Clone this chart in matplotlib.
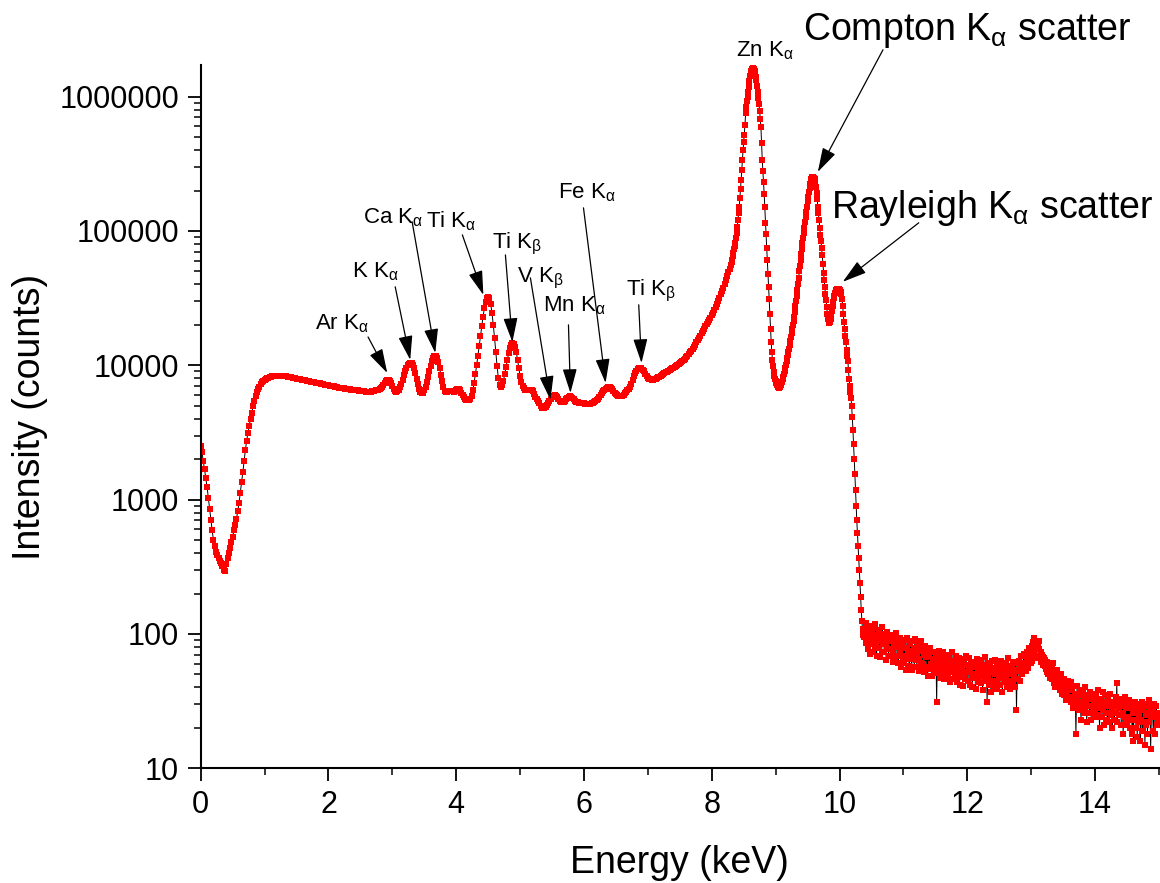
#!/usr/bin/env python3
"""XRF spectrum with element line annotations (log intensity vs energy)."""

import matplotlib

matplotlib.use("Agg")
import matplotlib.pyplot as plt  # noqa: E402
import numpy as np  # noqa: E402
from matplotlib.ticker import FixedLocator, FuncFormatter, LogLocator, NullFormatter  # noqa: E402

plt.rcParams["font.family"] = ["Liberation Sans", "DejaVu Sans"]
plt.rcParams["mathtext.fontset"] = "custom"
plt.rcParams["mathtext.rm"] = "Liberation Sans"
plt.rcParams["mathtext.it"] = "Liberation Sans"

# spectrum is read in three pieces, each with its own channel spacing (keV)
LOW_START, LOW_STEP = 0.00, 0.02
LOW_COUNTS = [
    2500, 2250, 1950, 1700, 1450, 1240, 1030, 850, 700, 590,
    500, 450, 410, 385, 365, 350, 335, 320, 300, 295,
    330, 365, 400, 440, 480, 530, 590, 650, 720, 820,
    950, 1120, 1350, 1600, 1950, 2350, 2750, 3150, 3550, 4000,
    4450, 4950, 5450, 5950, 6350, 6650, 6950, 7250, 7500, 7650,
    7800, 7900, 8000, 8100, 8170, 8250, 8300, 8330, 8350, 8370,
    8370, 8360, 8350, 8330, 8310, 8300, 8280, 8260, 8240, 8220,
    8200, 8150, 8100, 8050, 8000, 7950, 7920, 7890, 7860, 7830,
    7800, 7760, 7720, 7680, 7640, 7600, 7560, 7530, 7500, 7460,
    7430, 7400, 7360, 7320, 7290, 7250, 7220, 7190, 7160, 7130,
    7110, 7070, 7030, 7000, 6960, 6930, 6900, 6870, 6830, 6800,
    6770, 6750, 6730, 6710, 6690, 6670, 6650, 6630, 6600, 6580,
    6560, 6540, 6520, 6500, 6480, 6460, 6440, 6420, 6400, 6380,
    6370, 6360, 6360, 6370, 6390, 6420, 6460, 6510, 6560, 6600,
    6640, 6750, 6900, 7100, 7350, 7600, 7750, 7800, 7700, 7400,
    7000, 6700, 6450, 6350, 6400, 6600, 6900, 7300, 7800, 8400,
    9000, 9600, 10000, 10300, 10400, 10350, 10100, 9500, 8700, 7900,
    7200, 6700, 6350, 6200, 6250, 6500, 6900, 7500, 8200, 9000,
    9900, 10700, 11300, 11700, 11700, 11300, 10500, 9500, 8500, 7600,
    6900, 6450, 6350, 6350, 6400, 6450, 6450, 6400, 6350, 6400,
    6550, 6650, 6650, 6500, 6250, 6000, 5800, 5650, 5550, 5500,
    5520, 5600, 5900, 6500, 7400, 8600, 10000, 11800, 14000, 16500,
    19500, 23000, 26500, 29500, 31800, 32500, 31500, 28500, 24500, 20000,
    16000, 12500, 9800, 8000, 7100, 6900, 7100, 7700, 8600, 9700,
    11000, 12300, 13400, 14200, 14600, 14500, 13800, 12500, 11000, 9500,
    8300, 7500, 7000, 6750, 6600, 6550, 6550, 6600, 6600, 6550,
    6400, 6150, 5850, 5600, 5400, 5200, 5000, 4850, 4780, 4800,
    4900, 5050, 5250, 5450, 5600, 5800, 5950, 6000, 5950, 5800,
    5600, 5450, 5350, 5300, 5350, 5450, 5600, 5750, 5850, 5900,
    5850, 5750, 5600, 5450, 5350, 5300, 5280, 5270, 5250, 5220,
    5200, 5180, 5160, 5150, 5150, 5170, 5200, 5250, 5320, 5420,
    5530, 5650, 5800, 6000, 6200, 6400, 6550, 6700, 6800, 6870,
    6870, 6800, 6650, 6450, 6250, 6100, 5980, 5900, 5880, 5900,
    5950, 6050, 6200, 6350, 6500, 6650, 6900, 7300, 7800, 8300,
    8750, 9100, 9350, 9500, 9550, 9500, 9300, 9000, 8650, 8350,
    8100, 7950, 7850, 7800, 7800, 7850, 7950, 8050, 8150, 8250,
    8350, 8450, 8600, 8750, 8870, 8980, 9100, 9250, 9400, 9500,
    9600, 9750, 9900, 10050, 10200, 10350, 10550, 10750, 10950, 11200,
    11500, 11800, 12150, 12500, 12850, 13200, 13700, 14200, 14800, 15400,
    16000, 16600, 17300, 18000, 18700, 19500, 20200, 21000, 21800, 22600,
    23500, 24700, 25900, 27100, 28500, 30000, 31800, 33800, 35800, 37900,
    40000, 43000, 46000, 49500, 52500,
]

PEAK_START, PEAK_STEP = 8.30, 0.01
PEAK_COUNTS = [
    56000, 58500, 61000, 65000, 69000, 73000, 77500, 82000, 89000, 97000,
    107000, 120000, 135000, 152000, 175000, 205000, 240000, 285000, 340000, 400000,
    460000, 520000, 620000, 750000, 840000, 930000, 1000000, 1080000, 1180000, 1300000,
    1420000, 1500000, 1560000, 1600000, 1630000, 1630000, 1600000, 1550000, 1480000, 1400000,
    1330000, 1200000, 1080000, 970000, 880000, 780000, 680000, 590000, 450000, 340000,
    280000, 230000, 190000, 150000, 115000, 95000, 75000, 61000, 48000, 38000,
    31000, 24000, 18500, 15000, 12500, 11000, 9800, 8900, 8300, 7950,
    7700, 7400, 7150, 6950, 6850, 6800, 6850, 6950, 7100, 7300,
    7550, 7850, 8200, 8600, 9050, 9550, 10100, 10700, 11300, 11900,
    12500, 13300, 14200, 15200, 16300, 17400, 18600, 19900, 21400, 23000,
    25000, 27500, 30000, 33000, 36500, 40500, 45000, 50000, 55000, 61000,
    67000, 74000, 81000, 89000, 97000, 106000, 116000, 127000, 139000, 152000,
    166000, 180000, 195000, 210000, 224000, 236000, 245000, 251000, 254000, 254000,
    250000, 242000, 230000, 213000, 193000, 172000, 152000, 135000, 120000, 106000,
    94000, 84000, 75000, 66000, 57000, 49000, 43000, 38000, 34000, 30500,
    27000, 24000, 22000, 20800, 20500, 21000, 22000, 23500, 25500, 27500,
    29500, 31500, 33000, 34500, 35500, 36300, 36800, 37000, 37000, 36800,
    36300, 35700, 35000, 34000, 31000, 27500, 24000, 21000, 18500, 16500,
    15000, 13000, 11800, 10800, 9200, 7900, 7000, 6300, 5700, 5000,
    4100, 3300, 2600, 2000, 1550, 1180, 900, 700, 560, 450,
    370, 300, 240, 190, 150, 125, 108, 98, 95, 102,
]

TAIL_START, TAIL_STEP = 10.40, 0.01
TAIL_COUNTS = [
    106, 85, 120, 96, 77, 111, 91, 71, 103, 115,
    84, 101, 74, 111, 92, 80, 119, 87, 68, 98,
    96, 78, 107, 67, 89, 100, 73, 112, 84, 92,
    74, 95, 85, 64, 104, 79, 90, 68, 98, 77,
    89, 68, 99, 75, 62, 86, 94, 65, 80, 102,
    69, 86, 61, 81, 94, 72, 57, 89, 78, 65,
    82, 61, 90, 69, 54, 78, 94, 66, 75, 58,
    65, 84, 73, 54, 88, 68, 78, 57, 92, 64,
    77, 57, 72, 85, 53, 65, 78, 61, 88, 56,
    60, 75, 52, 70, 81, 57, 67, 76, 49, 71,
    68, 55, 79, 60, 49, 73, 65, 74, 53, 61,
    58, 71, 31, 64, 51, 75, 56, 47, 67, 61,
    67, 51, 73, 56, 46, 64, 70, 49, 61, 54,
    49, 67, 59, 44, 63, 54, 73, 46, 60, 52,
    63, 49, 58, 69, 44, 57, 52, 66, 42, 60,
    48, 62, 56, 41, 65, 51, 59, 46, 68, 52,
    59, 45, 56, 66, 42, 53, 61, 48, 40, 58,
    47, 62, 50, 39, 57, 65, 44, 54, 49, 60,
    56, 43, 64, 49, 38, 59, 53, 46, 67, 45,
    55, 31, 48, 61, 42, 53, 58, 37, 52, 63,
    45, 56, 40, 64, 50, 44, 60, 39, 55, 48,
    58, 42, 53, 63, 47, 37, 56, 52, 61, 44,
    48, 60, 40, 55, 66, 45, 52, 39, 58, 50,
    56, 43, 62, 48, 53, 40, 61, 27, 54, 46,
    53, 63, 45, 58, 68, 50, 61, 56, 71, 60,
    60, 69, 53, 74, 64, 56, 79, 68, 72, 61,
    68, 81, 63, 87, 93, 74, 84, 66, 79, 89,
    82, 69, 77, 88, 66, 74, 62, 70, 59, 67,
    66, 58, 64, 55, 62, 52, 60, 50, 58, 47,
    59, 49, 56, 46, 61, 43, 53, 48, 40, 51,
    46, 54, 41, 49, 44, 38, 50, 42, 36, 46,
    42, 35, 46, 38, 32, 43, 37, 45, 34, 40,
    39, 33, 44, 31, 38, 28, 41, 34, 30, 36,
    18, 33, 41, 28, 36, 27, 38, 31, 23, 35,
    30, 37, 26, 34, 40, 27, 32, 22, 35, 29,
    34, 26, 37, 29, 23, 33, 28, 36, 25, 31,
    27, 35, 24, 32, 38, 25, 30, 20, 33, 28,
    32, 24, 37, 27, 21, 31, 35, 26, 29, 23,
    26, 33, 22, 30, 36, 25, 28, 20, 31, 26,
    23, 30, 34, 26, 43, 22, 31, 25, 28, 33,
    29, 21, 32, 26, 18, 31, 24, 34, 23, 28,
    21, 29, 24, 32, 20, 28, 23, 31, 18, 26,
    16, 28, 23, 31, 20, 27, 17, 30, 22, 25,
    28, 16, 23, 31, 19, 27, 22, 30, 15, 25,
    21, 29, 18, 26, 32, 22, 27, 14, 24, 30,
    27, 19, 26, 30, 18, 24, 29, 21, 26, 22,
    24,
]

Y_TICKS = [10, 100, 1000, 10000, 100000, 1000000]
X_TICKS = [0, 2, 4, 6, 8, 10, 12, 14]

# label text, text anchor (keV, counts), arrow tail, arrow tip; None = no arrow
LABELS = [
    ("Ar K$_{\\alpha}$", (1.79, 18400), (2.62, 16250), (2.92, 8770)),
    ("K K$_{\\alpha}$", (2.37, 45500), (3.045, 38400), (3.28, 10970)),
    ("Ca K$_{\\alpha}$", (2.54, 114800), (3.31, 117000), (3.672, 12360)),
    ("Ti K$_{\\alpha}$", (3.53, 107000), (4.096, 93500), (4.425, 33400)),
    ("Ti K$_{\\beta}$", (4.566, 74800), (4.77, 66300), (4.879, 14900)),
    ("V K$_{\\beta}$", (4.958, 41100), (5.161, 44800), (5.475, 5520)),
    ("Mn K$_{\\alpha}$", (5.365, 25000), (5.757, 20000), (5.788, 6220)),
    ("Fe K$_{\\alpha}$", (5.60, 176000), (5.992, 148600), (6.338, 7390)),
    ("Ti K$_{\\beta}$", (6.65, 33400), (6.857, 28200), (6.90, 10400)),
    ("Zn K$_{\\alpha}$", (8.375, 1.98e6), None, None),
]
BIG_LABELS = [
    ("Compton K$_{\\alpha}$ scatter", (9.425, 2.65e6), (10.68, 2.23e6), (9.66, 275000)),
    ("Rayleigh K$_{\\alpha}$ scatter", (9.864, 125000), (11.24, 115000), (10.05, 41800)),
]


def channel_energies(start, step, counts):
    return start + step * np.arange(len(counts))


def add_labels(ax, labels, fontsize):
    for text, anchor, tail, tip in labels:
        ax.text(anchor[0], anchor[1], text, fontsize=fontsize, ha="left", va="baseline")
        if tail is None:
            continue
        ax.annotate(
            "",
            xy=tip,
            xytext=tail,
            annotation_clip=False,
            arrowprops=dict(
                arrowstyle="-|>,head_length=0.75,head_width=0.22",
                mutation_scale=20,
                color="black",
                lw=0.9,
                shrinkA=0,
                shrinkB=0,
            ),
        )


def main():
    energy = np.concatenate([
        channel_energies(LOW_START, LOW_STEP, LOW_COUNTS),
        channel_energies(PEAK_START, PEAK_STEP, PEAK_COUNTS),
        channel_energies(TAIL_START, TAIL_STEP, TAIL_COUNTS),
    ])
    counts = np.array(LOW_COUNTS + PEAK_COUNTS + TAIL_COUNTS, dtype=float)

    fig = plt.figure(figsize=(11.6, 8.83), dpi=100)
    ax = fig.add_axes([0.1730, 0.1299, 0.8261, 0.7965])
    ax.plot(energy, counts, color="black", lw=0.7, marker="s", ms=4.3,
            mfc="#ff0000", mec="#ff0000", mew=0)

    ax.set_yscale("log")
    ax.set_xlim(0, 15)
    ax.set_ylim(10, 1.72e6)
    ax.yaxis.set_major_locator(FixedLocator(Y_TICKS))
    ax.yaxis.set_major_formatter(FuncFormatter(lambda v, _: f"{v:.0f}"))
    ax.yaxis.set_minor_locator(LogLocator(base=10, subs=np.arange(2, 10)))
    ax.yaxis.set_minor_formatter(NullFormatter())
    ax.set_xticks(X_TICKS)
    ax.set_xticks([1, 3, 5, 7, 9, 11, 13, 15], minor=True)

    for side in ("top", "right"):
        ax.spines[side].set_visible(False)
    for side in ("left", "bottom"):
        ax.spines[side].set_linewidth(1.5)
    ax.tick_params(which="major", length=9.6, width=1.3, labelsize=22, pad=6)
    ax.tick_params(which="minor", length=5, width=1.1)

    ax.set_xlabel("Energy (keV)", fontsize=27, labelpad=18)
    ax.set_ylabel("Intensity (counts)", fontsize=27, labelpad=8)

    add_labels(ax, LABELS, 16)
    add_labels(ax, BIG_LABELS, 27)

    fig.savefig("out.png", dpi=100)
    plt.close(fig)


if __name__ == "__main__":
    main()
